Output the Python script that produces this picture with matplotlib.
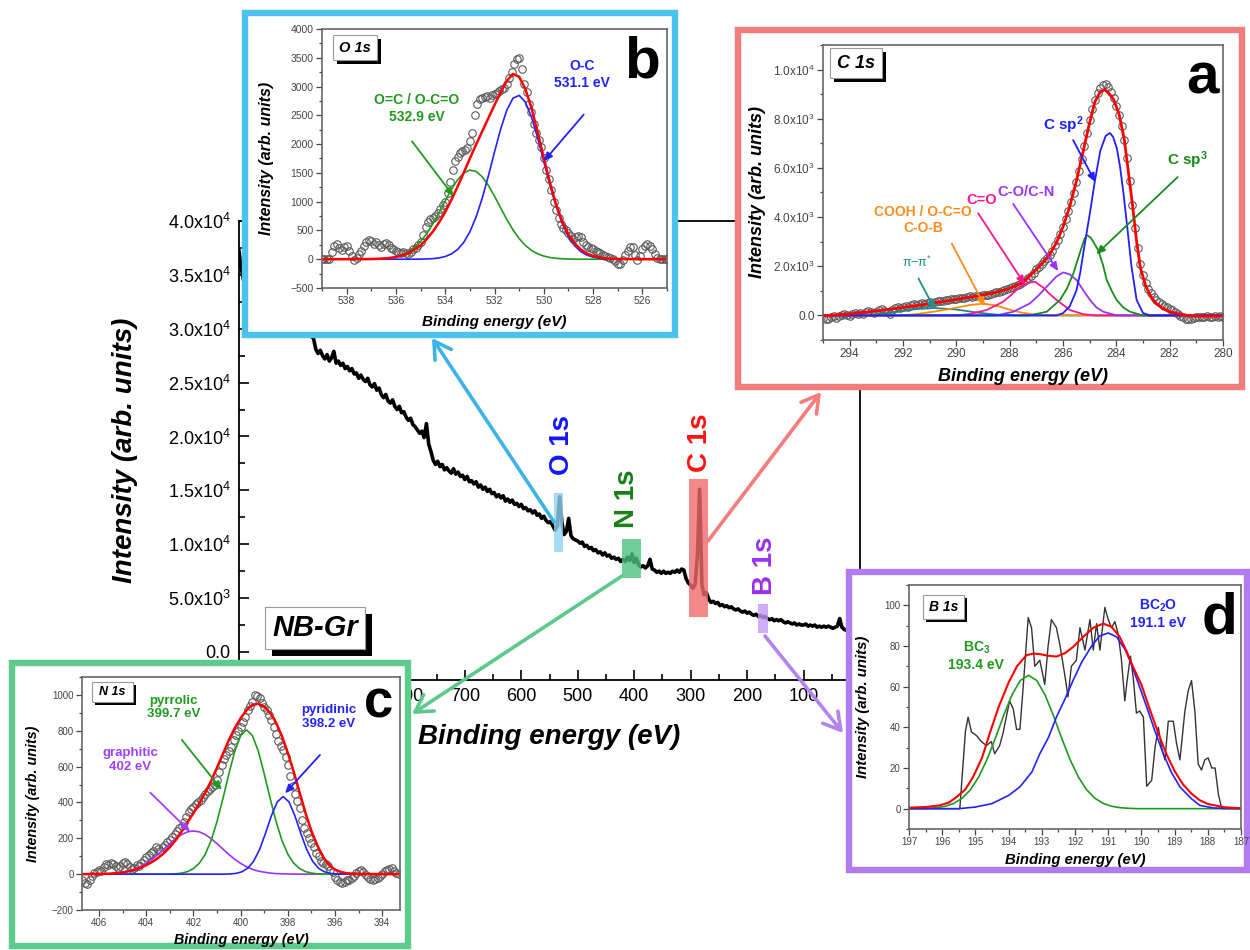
import numpy as np
import matplotlib
matplotlib.use("Agg")
import matplotlib.pyplot as plt
from matplotlib.patches import Rectangle, FancyArrowPatch
from matplotlib.ticker import MultipleLocator

plt.rcParams["font.family"] = ["Liberation Sans", "DejaVu Sans"]
plt.rcParams["mathtext.fontset"] = "custom"
plt.rcParams["mathtext.rm"] = "Liberation Sans"
plt.rcParams["mathtext.it"] = "Liberation Sans:italic"
plt.rcParams["mathtext.bf"] = "Liberation Sans:bold"

# ---------------- survey spectrum: counts every 4 eV from 1100 down to 20 eV ----------------
survey_counts = [37200, 35600, 34500, 34000, 33800, 33500, 33600, 33200, 33100, 32900,
                 32800, 32600, 32700, 32300, 32200, 32000, 31900, 31700, 31600, 31400,
                 31300, 31100, 31200, 30800, 30700, 30500, 30400, 30200, 30000, 29800,
                 29600, 29900, 29300, 29100, 28100, 27700, 28000, 27500, 27200, 27600,
                 27000, 27300, 27900, 26800, 27000, 26600, 26800, 26300, 26500, 26100,
                 26300, 25800, 25900, 25400, 25700, 25300, 25100, 25400, 24800, 24600,
                 24900, 24300, 24500, 23900, 23600, 23900, 23300, 23100, 23400, 22800,
                 22500, 22800, 22200, 22300, 21800, 21500, 21700, 21100, 20900, 20600,
                 20300, 20500, 19900, 21200, 19300, 18600, 17800, 17400, 17700, 17200,
                 17400, 16900, 17100, 16800, 16600, 17000, 16500, 16700, 16300, 16400,
                 16000, 16300, 15800, 15900, 15600, 15800, 15300, 15500, 15100, 15300,
                 14900, 15100, 14700, 14800, 14400, 14600, 14300, 14500, 14000, 14200,
                 13900, 14100, 13700, 13800, 13500, 13700, 13300, 13400, 13100, 13200,
                 12900, 13100, 12700, 12800, 12400, 12600, 12200, 12000, 12100, 11700,
                 11300, 11700, 14400, 12000, 10900, 11200, 12400, 10800, 10500, 10400,
                 10300, 10100, 10200, 9800, 9900, 9600, 9700, 9400, 9500, 9200,
                 9300, 9000, 9200, 8900, 9000, 8700, 8800, 8600, 8700, 8400,
                 8600, 8400, 8800, 8500, 9100, 8300, 8700, 8100, 7900, 8000,
                 7800, 8000, 8600, 7700, 7600, 7400, 7500, 7300, 7500, 7300,
                 7400, 7300, 7500, 7400, 7600, 7400, 7700, 7600, 6800, 6400,
                 6200, 5900, 6300, 9000, 15100, 6200, 5300, 5500, 4900, 4600,
                 4700, 4500, 4600, 4300, 4400, 4200, 4300, 4100, 4200, 4000,
                 3900, 4000, 3800, 3700, 3800, 3600, 3700, 3500, 3400, 3500,
                 3300, 3400, 3200, 3300, 3100, 3000, 3100, 2900, 3000, 2900,
                 3000, 2800, 2700, 2800, 2700, 2600, 2700, 2500, 2600, 2500,
                 2500, 2600, 2400, 2500, 2400, 2500, 2300, 2400, 2300, 2400,
                 2300, 2400, 2300, 2200, 2300, 2400, 3100, 2300, 2100, 2000,
                 2100]
main_xticks = [0, 100, 200, 300, 400, 500, 600, 700, 800, 900, 1000, 1100]
main_xlabels = ["", "100", "200", "300", "400", "500", "600", "700", "800", "", "", ""]
main_yticks = [0, 5000, 10000, 15000, 20000, 25000, 30000, 35000, 40000]
main_ylabels = ["0.0", "5.0x10$^{3}$", "1.0x10$^{4}$", "1.5x10$^{4}$", "2.0x10$^{4}$",
                "2.5x10$^{4}$", "3.0x10$^{4}$", "3.5x10$^{4}$", "4.0x10$^{4}$"]

# ---------------- (a) C 1s ----------------
a_data = [-110, -150, -130, -60, -20, -90, -40, 10, 40, 20,
          -10, 60, 90, 50, 110, 70, 120, 160, 130, 90,
          150, 210, 260, 190, 120, 60, 200, 300, 340, 290,
          350, 390, 360, 420, 450, 410, 470, 500, 460, 520,
          540, 510, 550, 590, 570, 600, 630, 610, 650, 680,
          660, 690, 720, 700, 740, 770, 750, 790, 810, 800,
          820, 850, 830, 880, 910, 940, 970, 1010, 1040, 1080,
          1110, 1150, 1190, 1240, 1290, 1350, 1430, 1520, 1620, 1740,
          1870, 1980, 2090, 2200, 2320, 2460, 2640, 2850, 3080, 3330,
          3600, 3920, 4250, 4600, 4980, 5420, 5890, 6380, 6900, 7420,
          7930, 8380, 8760, 9050, 9250, 9380, 9420, 9300, 9100, 8850,
          8500, 8150, 7700, 7150, 6400, 5450, 4500, 3550, 2750, 2100,
          1650, 1320, 1080, 900, 760, 640, 540, 460, 390, 330,
          280, 220, 150, 60, -20, -80, -130, -160, -140, -90,
          -60, -70, -50, -60, -40, -50, -60, -40, -50, -40, -50]
a_red = [(295.0, -20), (294.0, 60), (293.0, 180), (292.0, 320), (291.0, 480), (290.0, 650),
         (289.5, 740), (289.0, 830), (288.5, 940), (288.0, 1100), (287.5, 1340), (287.0, 1870),
         (286.75, 2150), (286.5, 2480), (286.25, 2950), (286.0, 3600), (285.75, 4420),
         (285.5, 5450), (285.25, 6650), (285.0, 7850), (284.8, 8700), (284.6, 9100),
         (284.43, 9180), (284.25, 9000), (284.1, 8780), (283.9, 8200), (283.7, 7150),
         (283.55, 5850), (283.4, 4550), (283.25, 3100), (283.1, 1950), (282.9, 1200),
         (282.7, 750), (282.5, 480), (282.25, 280), (282.0, 150), (281.5, 20), (281.0, -30),
         (280.0, -30)]
a_sp2 = [(295.0, 0), (286.25, 0), (286.0, 90), (285.75, 370), (285.5, 1000), (285.36, 1700),
         (285.2, 2800), (285.0, 4100), (284.8, 5500), (284.6, 6700), (284.4, 7300),
         (284.24, 7420), (284.12, 7260), (283.98, 6800), (283.86, 6050), (283.73, 4950),
         (283.6, 3680), (283.43, 1980), (283.24, 630), (283.0, 100), (282.75, 0), (280.0, 0)]
a_sp3 = [(295.0, 0), (287.25, 0), (286.61, 150), (286.11, 630), (285.85, 1100), (285.61, 1710),
         (285.35, 2600), (285.2, 3100), (285.1, 3270), (284.95, 3150), (284.68, 2660),
         (284.5, 2050), (284.36, 1440), (284.15, 950), (283.99, 630), (283.75, 330),
         (283.49, 150), (283.0, 0), (280.0, 0)]
a_co = [(295.0, 0), (288.5, 0), (287.86, 150), (287.24, 490), (286.9, 830), (286.61, 1170),
        (286.25, 1580), (285.99, 1750), (285.75, 1670), (285.49, 1440), (285.25, 1040),
        (284.99, 630), (284.75, 330), (284.49, 150), (284.0, 0), (280.0, 0)]
a_cdo = [(295.0, 0), (290.0, 0), (289.5, 60), (288.86, 220), (288.24, 560), (287.9, 870),
         (287.61, 1170), (287.3, 1330), (287.05, 1370), (286.74, 1130), (286.5, 870),
         (286.24, 630), (285.74, 220), (285.24, 50), (284.75, 0), (280.0, 0)]
a_cooh = [(295.0, 0), (292.25, 0), (291.6, 40), (290.86, 150), (290.11, 290), (289.5, 420),
          (288.99, 480), (288.6, 420), (288.36, 355), (287.95, 220), (287.61, 125),
          (287.0, 20), (286.5, 0), (280.0, 0)]
a_pi = [(295.0, 0), (294.0, 0), (293.0, 40), (292.25, 140), (291.5, 260), (290.8, 300),
        (290.0, 240), (289.25, 120), (288.5, 30), (287.75, 0), (280.0, 0)]
a_yticks = [0, 2000, 4000, 6000, 8000, 10000]
a_ylabels = ["0.0", "2.0x10$^{3}$", "4.0x10$^{3}$", "6.0x10$^{3}$", "8.0x10$^{3}$", "1.0x10$^{4}$"]

# ---------------- (b) O 1s ----------------
b_data = [0, 0, 5, 0, 120, 230, 260, 190, 160, 210,
          230, 150, 60, -10, 20, 90, 150, 230, 300, 340,
          310, 270, 300, 250, 220, 260, 290, 240, 200, 170,
          150, 120, 100, 130, 110, 90, 120, 170, 200, 250,
          300, 420, 560, 640, 700, 720, 750, 800, 870, 940,
          1000, 1150, 1350, 1550, 1700, 1780, 1850, 1880, 1900, 1940,
          2050, 2200, 2500, 2700, 2780, 2800, 2820, 2830, 2800, 2850,
          2870, 2880, 2920, 2950, 2980, 3050, 3150, 3250, 3400, 3480,
          3500, 3300, 3050, 2900, 2700, 2550, 2350, 2200, 2080, 1950,
          1750, 1550, 1400, 1200, 1000, 850, 720, 610, 540, 500,
          460, 400, 350, 380, 410, 380, 300, 240, 210, 190,
          170, 150, 120, 100, 80, 60, 40, 20, 0, -30,
          -80, -90, -20, 80, 150, 220, 210, 80, -10, 60,
          170, 230, 260, 230, 170, 90, 20, 0, 0, 0, 0]
b_red = [(539.0, 0), (537.0, 3), (536.5, 12), (536.0, 35), (535.5, 100), (535.0, 240),
         (534.75, 350), (534.5, 480), (534.25, 640), (534.0, 820), (533.75, 1030),
         (533.5, 1260), (533.25, 1500), (533.0, 1750), (532.75, 1990), (532.5, 2220),
         (532.25, 2450), (532.0, 2680), (531.75, 2900), (531.5, 3100), (531.25, 3220),
         (531.0, 3170), (530.75, 2960), (530.5, 2630), (530.25, 2210), (530.0, 1760),
         (529.75, 1330), (529.5, 950), (529.25, 650), (529.0, 430), (528.75, 280),
         (528.5, 170), (528.25, 100), (528.0, 55), (527.5, 15), (527.0, 3), (525.0, 0)]
b_oc = [(539.0, 0), (535.25, 0), (535.0, 2), (534.75, 5), (534.5, 10), (534.25, 23),
        (534.0, 47), (533.75, 92), (533.5, 168), (533.25, 291), (533.0, 475), (532.75, 730),
        (532.5, 1058), (532.25, 1445), (532.0, 1863), (531.75, 2262), (531.5, 2591),
        (531.25, 2797), (531.0, 2847), (530.75, 2732), (530.5, 2471), (530.25, 2108),
        (530.0, 1695), (529.75, 1285), (529.5, 919), (529.25, 619), (529.0, 393),
        (528.75, 236), (528.5, 133), (528.25, 71), (528.0, 36), (527.75, 17), (527.5, 7),
        (527.25, 3), (527.0, 1), (525.0, 0)]
b_oco = [(539.0, 0), (537.25, 0), (537.0, 3), (536.75, 6), (536.5, 12), (536.25, 24),
         (536.0, 43), (535.75, 76), (535.5, 127), (535.25, 203), (535.0, 308), (534.75, 446),
         (534.5, 615), (534.25, 809), (534.0, 1014), (533.75, 1212), (533.5, 1380),
         (533.25, 1497), (533.0, 1549), (532.75, 1526), (532.5, 1434), (532.25, 1284),
         (532.0, 1095), (531.75, 891), (531.5, 690), (531.25, 510), (531.0, 359),
         (530.75, 241), (530.5, 154), (530.25, 94), (530.0, 55), (529.75, 30), (529.5, 16),
         (529.25, 8), (529.0, 4), (528.75, 0), (525.0, 0)]

# ---------------- (c) N 1s ----------------
c_data = [-30, -50, -55, -30, -10, 5, 10, 25, 20, 40,
          55, 50, 60, 55, 45, 35, 45, 60, 70, 55,
          40, 30, 35, 50, 45, 60, 80, 95, 105, 120,
          130, 150, 140, 130, 150, 165, 180, 190, 210, 225,
          240, 255, 270, 290, 320, 345, 365, 375, 390, 400,
          415, 430, 445, 462, 475, 485, 500, 525, 570, 610,
          645, 665, 685, 710, 750, 775, 800, 820, 850, 875,
          915, 940, 960, 1000, 995, 985, 955, 935, 915, 890,
          860, 820, 780, 745, 715, 690, 655, 610, 545, 490,
          450, 410, 370, 300, 260, 230, 200, 175, 150, 120,
          100, 75, 65, 55, 45, 25, 10, -15, -35, -45,
          -50, -45, -35, -30, -20, -10, 5, 20, 25, 10,
          -5, -15, -25, -30, -25, -20, -10, 0, 15, 25,
          30, 35, 20, 5, 0]
c_red = [(406.72, 0), (406.0, 1), (405.5, 3), (405.0, 9), (404.5, 24), (404.25, 35),
         (404.0, 50), (403.75, 68), (403.5, 90), (403.25, 117), (403.0, 150), (402.75, 190),
         (402.5, 238), (402.25, 290), (402.0, 340), (401.75, 395), (401.5, 455),
         (401.25, 520), (401.0, 595), (400.75, 672), (400.5, 748), (400.25, 815),
         (400.0, 870), (399.75, 915), (399.5, 945), (399.25, 951), (399.0, 935),
         (398.75, 900), (398.5, 845), (398.25, 770), (398.0, 676), (397.75, 570),
         (397.5, 455), (397.25, 340), (397.0, 240), (396.75, 160), (396.5, 95),
         (396.25, 50), (396.0, 25), (395.75, 12), (395.5, 5), (395.0, 1), (393.25, 0)]
c_pyrrolic = [(406.72, 0), (403.0, 0), (402.75, 2), (402.5, 6), (402.25, 14), (402.0, 31),
              (401.75, 61), (401.5, 111), (401.25, 188), (401.0, 294), (400.75, 422),
              (400.5, 559), (400.25, 685), (400.0, 773), (399.75, 805), (399.5, 773),
              (399.25, 685), (399.0, 559), (398.75, 422), (398.5, 294), (398.25, 188),
              (398.0, 111), (397.75, 61), (397.5, 31), (397.25, 14), (397.0, 6),
              (396.75, 2), (396.5, 0), (393.25, 0)]
c_pyridinic = [(406.72, 0), (400.7, 0), (400.45, 1), (400.2, 4), (399.95, 13), (399.7, 33),
               (399.45, 72), (399.2, 137), (398.95, 227), (398.7, 325), (398.45, 403),
               (398.2, 433), (397.95, 403), (397.7, 325), (397.45, 227), (397.2, 137),
               (396.95, 72), (396.7, 33), (396.45, 13), (396.2, 4), (395.95, 1),
               (395.7, 0), (393.25, 0)]
c_graphitic = [(406.72, 0), (406.25, 0), (406.0, 1), (405.75, 2), (405.5, 3), (405.25, 6),
               (405.0, 11), (404.75, 17), (404.5, 27), (404.25, 41), (404.0, 60),
               (403.75, 83), (403.5, 110), (403.25, 140), (403.0, 170), (402.75, 198),
               (402.5, 221), (402.25, 236), (402.0, 241), (401.75, 236), (401.5, 221),
               (401.25, 198), (401.0, 170), (400.75, 140), (400.5, 110), (400.25, 83),
               (400.0, 60), (399.75, 41), (399.5, 27), (399.25, 17), (399.0, 11),
               (398.75, 6), (398.5, 3), (398.25, 2), (398.0, 1), (397.75, 0), (393.25, 0)]

# ---------------- (d) B 1s ----------------
d_data = [(197.0, 0), (195.47, 0), (195.3, 38), (195.22, 45), (195.12, 37.7), (194.97, 36),
          (194.82, 33), (194.67, 31), (194.52, 33), (194.42, 27), (194.27, 31), (194.17, 37),
          (194.07, 45), (193.97, 53), (193.86, 49), (193.76, 39), (193.66, 39), (193.56, 60),
          (193.41, 94), (193.31, 89), (193.21, 70), (193.06, 73), (192.91, 61), (192.81, 80),
          (192.71, 93), (192.56, 89), (192.46, 81), (192.31, 66), (192.21, 55), (192.11, 70),
          (191.96, 73), (191.85, 89), (191.7, 78), (191.55, 93), (191.45, 78), (191.35, 91),
          (191.25, 78), (191.1, 99), (191.0, 93), (190.9, 89), (190.8, 92), (190.7, 86),
          (190.6, 73), (190.5, 53), (190.43, 63), (190.33, 75), (190.25, 65), (190.15, 47),
          (190.05, 48), (189.94, 45), (189.84, 11), (189.69, 14), (189.59, 30), (189.49, 40),
          (189.39, 30), (189.29, 24), (189.19, 43), (189.04, 43), (188.94, 32), (188.84, 24),
          (188.69, 48), (188.59, 58), (188.49, 63), (188.39, 48), (188.29, 22), (188.19, 19),
          (188.09, 24), (187.99, 25), (187.88, 20), (187.78, 20), (187.68, 7), (187.58, 0),
          (187.0, 0)]
d_red = [(197.0, 0.5), (196.5, 0.8), (196.08, 1.6), (195.8, 3), (195.57, 5.7), (195.3, 9.5),
         (195.07, 15.6), (194.8, 25), (194.57, 36.9), (194.3, 50), (194.0, 62), (193.75, 70),
         (193.46, 75.5), (193.25, 76.3), (193.06, 76), (192.8, 75.2), (192.56, 74.8),
         (192.3, 76.5), (192.06, 79.5), (191.75, 84.5), (191.45, 89), (191.15, 91),
         (190.9, 89.5), (190.65, 84.4), (190.45, 77.5), (190.25, 69.7), (190.0, 61),
         (189.75, 49), (189.5, 37.5), (189.25, 27), (189.0, 18.5), (188.75, 12), (188.5, 7.5),
         (188.25, 4.2), (188.0, 2.3), (187.5, 0.7), (187.0, 0.2)]
d_bc3 = [(197.0, 0), (196.65, 0), (196.4, 0.2), (196.15, 0.5), (195.9, 1.2), (195.65, 2.6),
         (195.4, 5.1), (195.15, 9.3), (194.9, 15.6), (194.65, 24.2), (194.4, 34.6),
         (194.15, 45.8), (193.9, 55.9), (193.65, 63.0), (193.4, 65.6), (193.15, 63.0),
         (192.9, 55.9), (192.65, 45.8), (192.4, 34.6), (192.15, 24.2), (191.9, 15.6),
         (191.65, 9.3), (191.4, 5.1), (191.15, 2.6), (190.9, 1.2), (190.65, 0.5),
         (190.4, 0.2), (190.15, 0), (187.0, 0)]
d_bc2o = [(197.0, 0), (195.5, 0), (195.0, 0.8), (194.5, 2.5), (194.0, 6.5), (193.66, 10.7),
          (193.3, 18), (193.06, 27), (192.8, 35), (192.56, 45), (192.3, 54), (192.06, 63),
          (191.8, 72), (191.5, 80), (191.25, 85), (191.0, 86.4), (190.75, 84.5), (190.5, 78.5),
          (190.35, 73), (190.1, 62), (189.84, 50), (189.6, 38.5), (189.34, 27), (189.1, 18),
          (188.84, 10.7), (188.5, 5), (188.24, 1.6), (187.8, 0.3), (187.0, 0)]

# ---------------- figure ----------------
W, H = 1250, 950
fig = plt.figure(figsize=(12.5, 9.5), dpi=100)


def px_rect(x0, y0, x1, y1):
    return [x0 / W, 1 - y1 / H, (x1 - x0) / W, (y1 - y0) / H]


def fpt(x, y):
    return (x / W, 1 - y / H)


def xy(pairs):
    return [p[0] for p in pairs], [p[1] for p in pairs]


BI = dict(fontweight="bold", fontstyle="italic")

# main survey axes
ax = fig.add_axes(px_rect(239, 221, 860, 680), zorder=0)
ax.plot(np.linspace(1100, 20, len(survey_counts)), survey_counts, color="black", lw=2.6,
        zorder=2)
ax.set_xlim(1100, 0)
ax.set_ylim(-2600, 40000)
ax.set_xticks(main_xticks, main_xlabels)
ax.xaxis.set_minor_locator(MultipleLocator(50))
ax.set_yticks(main_yticks, main_ylabels)
ax.yaxis.set_minor_locator(MultipleLocator(2500))
ax.tick_params(which="both", direction="in", labelsize=13, width=1.2, pad=6)
ax.tick_params(which="major", length=7)
ax.tick_params(which="minor", length=4)
for s in ax.spines.values():
    s.set_linewidth(1.3)
ax.set_xlabel("Binding energy (eV)", fontsize=20, va="center", **BI)
ax.xaxis.set_label_coords(0.5, -0.124)
ax.set_ylabel("Intensity (arb. units)", fontsize=20, va="center", **BI)
ax.yaxis.set_label_coords(-0.184, 0.5)

# highlighted core-level regions
for e_hi, e_lo, i_lo, i_hi, fc in [(542, 526, 9260, 14720, "#8fd3f0"),
                                   (421, 388, 6850, 10460, "#4cc27f"),
                                   (303, 269, 3240, 16100, "#f26b6b"),
                                   (181, 163, 1760, 4440, "#c49af5")]:
    ax.add_patch(Rectangle((e_lo, i_lo), e_hi - e_lo, i_hi - i_lo, facecolor=fc,
                           edgecolor="none", alpha=0.8, zorder=3))
for txt, e, i, col in [("O 1s", 528, 19170, "#1515ff"), ("N 1s", 413, 14260, "#168016"),
                       ("C 1s", 283, 19440, "#ff1010"), ("B 1s", 168, 7960, "#9b30f0")]:
    ax.text(e, i, txt, rotation=90, ha="center", va="center", fontsize=20,
            fontweight="bold", color=col, zorder=4)


def tag(x0, y0, x1, y1, text, size, sh):
    fig.add_artist(Rectangle(((x0 + sh) / W, 1 - (y1 + sh) / H), (x1 - x0) / W, (y1 - y0) / H,
                             transform=fig.transFigure, facecolor="black", edgecolor="none",
                             zorder=8))
    fig.add_artist(Rectangle((x0 / W, 1 - y1 / H), (x1 - x0) / W, (y1 - y0) / H,
                             transform=fig.transFigure, facecolor="white", edgecolor="#999999",
                             lw=0.8, zorder=9))
    fig.text((x0 + x1) / 2 / W, 1 - (y0 + y1) / 2 / H, text, ha="center", va="center",
             fontsize=size, zorder=10, **BI)


tag(265, 607, 365, 649, "NB-Gr", 21, 7)


def inset(frame, box, color, xlim, ylim, xloc, yloc, tick_fs, lab_fs, ylab_x, xlab_y):
    x0, y0, x1, y1 = frame
    fig.add_artist(Rectangle((x0 / W, 1 - y1 / H), (x1 - x0) / W, (y1 - y0) / H,
                             transform=fig.transFigure, facecolor="white", edgecolor=color,
                             lw=4.6, zorder=5))
    a = fig.add_axes(px_rect(*box), zorder=6)
    a.set_xlim(*xlim)
    a.set_ylim(*ylim)
    a.xaxis.set_major_locator(MultipleLocator(xloc[0]))
    a.xaxis.set_minor_locator(MultipleLocator(xloc[1]))
    a.yaxis.set_major_locator(MultipleLocator(yloc[0]))
    a.yaxis.set_minor_locator(MultipleLocator(yloc[1]))
    a.tick_params(which="both", direction="out", colors="#444444", labelsize=tick_fs,
                  width=0.9, pad=2)
    a.tick_params(which="major", length=4)
    a.tick_params(which="minor", length=2.2)
    for s in a.spines.values():
        s.set_color("#666666")
        s.set_linewidth(1.2)
    a.set_xlabel("Binding energy (eV)", fontsize=lab_fs[0], va="center", **BI)
    a.set_ylabel("Intensity (arb. units)", fontsize=lab_fs[1], va="center", **BI)
    a.xaxis.set_label_coords(0.5, xlab_y)
    a.yaxis.set_label_coords(ylab_x, 0.5)
    return a


def note(a, text, pos, color, fs, tail=None, tip=None, bold=True):
    a.text(pos[0], pos[1], text, color=color, fontsize=fs, ha="center", va="center",
           fontweight="bold" if bold else "normal", linespacing=1.2)
    if tip is not None:
        a.annotate("", xy=tip, xytext=tail,
                   arrowprops=dict(arrowstyle="-|>,head_length=0.5,head_width=0.22",
                                   color=color, lw=1.3, shrinkA=0, shrinkB=0,
                                   mutation_scale=10))


CIRC = dict(ls="none", marker="o", ms=5.4, mfc="none", mec="#5a5a5a", mew=0.8)

# (b) O 1s
axb = inset((245, 13, 675, 335), (322, 29, 667, 288), "#4cc2ee", (539, 525), (-500, 4000),
            (2, 1), (500, 250), 7.5, (11, 11.5), -0.16, -0.13)
axb.plot(np.linspace(539.0, 525.0, len(b_data)), b_data, **CIRC)
axb.plot(*xy(b_oco), color="#1f9a1f", lw=1.2)
axb.plot(*xy(b_oc), color="#2222ff", lw=1.2)
axb.plot(*xy(b_red), color="#ff0000", lw=1.8)
note(axb, "O-C\n531.1 eV", (528.45, 3210), "#2222ff", 10, (528.38, 2513), (530.0, 1702))
note(axb, "O=C / O-C=O\n532.9 eV", (535.14, 2620), "#1f9a1f", 10, (535.35, 2050), (533.66, 1094))

# (a) C 1s
axa = inset((738, 30, 1242, 387), (823, 45, 1223, 340), "#f27b7b", (295, 280), (-1000, 11000),
            (2, 1), (2000, 1000), 8.5, (13, 13), -0.165, -0.125)
axa.set_yticks(a_yticks, a_ylabels)
axa.plot(np.linspace(295.0, 280.0, len(a_data)), a_data, **CIRC)
for pairs, col in [(a_pi, "#138a8a"), (a_cooh, "#ff8c00"), (a_cdo, "#ff1493"),
                   (a_co, "#9933ff"), (a_sp3, "#1a8c1a"), (a_sp2, "#1f1fff")]:
    axa.plot(*xy(pairs), color=col, lw=1.3)
axa.plot(*xy(a_red), color="#ff0000", lw=2.0)
note(axa, "C sp$^\\mathbf{2}$", (286.0, 7746), "#1f1fff", 11, (285.62, 7131), (284.79, 5424))
note(axa, "C sp$^\\mathbf{3}$", (281.32, 6311), "#1a8c1a", 11, (281.7, 5628), (284.75, 2486))
note(axa, "C-O/C-N", (287.37, 5014), "#9933ff", 10.5, (287.87, 4536), (286.18, 1803))
note(axa, "C=O", (289.05, 4700), "#ff1493", 10.5, (289.18, 4153), (287.43, 1257))
note(axa, "COOH / O-C=O\nC-O-B", (291.25, 3890), "#ff8c1a", 10, (290.17, 2923), (288.93, 369))
note(axa, "π−π$^{*}$", (291.48, 2145), "#1f9090", 9, (291.42, 1503), (290.8, 232), bold=False)

# (c) N 1s
axc = inset((12, 663, 408, 946), (82, 677, 400, 910), "#5ccb8c", (406.72, 393.25), (-200, 1100),
            (2, 1), (200, 100), 7, (10.3, 10.3), -0.153, -0.13)
axc.plot(np.linspace(406.7, 393.3, len(c_data)), c_data, **CIRC)
axc.plot(*xy(c_graphitic), color="#9933ff", lw=1.2)
axc.plot(*xy(c_pyrrolic), color="#1f9a1f", lw=1.2)
axc.plot(*xy(c_pyridinic), color="#2222ff", lw=1.2)
axc.plot(*xy(c_red), color="#ff0000", lw=1.8)
note(axc, "pyrrolic\n399.7 eV", (402.84, 930), "#1f9a1f", 9.5, (402.49, 749), (400.8, 470))
note(axc, "pyridinic\n398.2 eV", (396.28, 877), "#2222ff", 9.5, (396.64, 665), (398.12, 451))
note(axc, "graphitic\n402 eV", (404.67, 636), "#a040ff", 9.5, (403.83, 455), (402.14, 237))

# (d) B 1s
axd = inset((849, 572, 1247, 870), (909, 585, 1241, 829), "#b07cf0", (197, 187), (-10, 110),
            (1, 0.5), (20, 10), 7, (10.7, 10.7), -0.139, -0.127)
axd.plot(*xy(d_data), color="#333333", lw=1.0)
axd.plot(*xy(d_bc3), color="#1f9a1f", lw=1.2)
axd.plot(*xy(d_bc2o), color="#2222ff", lw=1.2)
axd.plot(*xy(d_red), color="#ff0000", lw=1.5)
note(axd, "BC$_\\mathbf{3}$\n193.4 eV", (194.97, 75), "#1f9a1f", 10)
note(axd, "BC$_\\mathbf{2}$O\n191.1 eV", (189.49, 96), "#2222ff", 10)

# inset tags and panel letters
tag(333, 35, 377, 60, "O 1s", 10.5, 4)
tag(830, 48, 882, 78, "C 1s", 13, 4)
tag(92, 682, 133, 702, "N 1s", 9, 3)
tag(923, 595, 964, 619, "B 1s", 10, 3)
for letter, x, y, fs in [("b", 642, 78, 42), ("a", 1203, 94, 42), ("c", 379, 717, 38),
                         ("d", 1220, 634, 42)]:
    fig.text(x / W, 1 - y / H, letter, ha="center", va="baseline", fontsize=fs,
             fontweight="bold", zorder=10)

# zoom arrows from survey peaks to insets
for p0, p1, col in [((554, 522), (432, 338), "#3bb3e6"), ((708, 541), (821, 392), "#f47c7c"),
                    ((622, 576), (412, 714), "#5cc98a"), ((765, 636), (843, 733), "#b583f0")]:
    fig.add_artist(FancyArrowPatch(fpt(*p0), fpt(*p1), transform=fig.transFigure,
                                   arrowstyle="->,head_length=0.6,head_width=0.35",
                                   mutation_scale=20, lw=2.6, color=col, zorder=7,
                                   shrinkA=0, shrinkB=0))

fig.savefig("out.png", dpi=100)
